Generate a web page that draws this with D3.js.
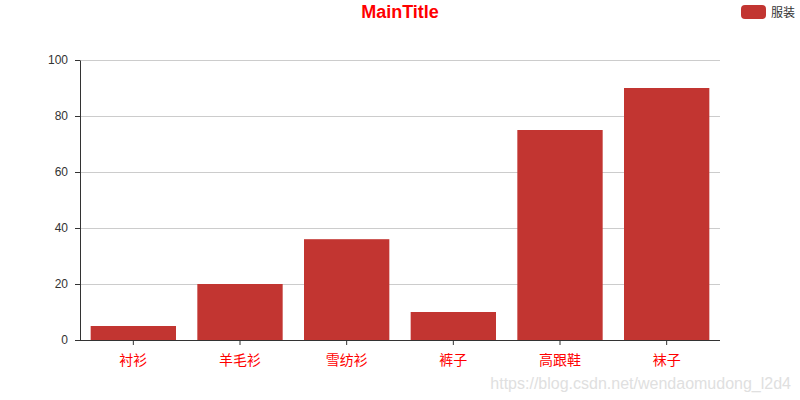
<!DOCTYPE html>
<html>
<head>
<meta charset="utf-8">
<script src="https://cdn.jsdelivr.net/npm/d3@7"></script>
<style>
    body { margin: 0; background: #fff; }
    text { font-family: "Noto Sans CJK SC", "Liberation Sans", sans-serif; }
</style>
</head>
<body>
<div id="chart"></div>
<script>
let categories = ['衬衫', '羊毛衫', '雪纺衫', '裤子', '高跟鞋', '袜子'];
let values = [5, 20, 36, 10, 75, 90];
let yTicks = [0, 20, 40, 60, 80, 100];
let seriesName = '服装';
let titleText = 'MainTitle';

let width = 800;
let height = 400;

let margin = {
    top: 60,
    right: 80,
    bottom: 60,
    left: 80
}

let svg = d3.select('#chart').append('svg')
    .attr('width', width)
    .attr('height', height);

let x = d3.scaleBand()
    .domain(categories)
    .range([margin.left, width - margin.right])
    .paddingInner(0.2)
    .paddingOuter(0.1);

let xAxisScale = d3.scaleBand()
    .domain(categories)
    .range([margin.left, width - margin.right]);

let y = d3.scaleLinear()
    .domain([0, 100])
    .range([height - margin.bottom, margin.top]);

// grid lines
svg.append('g')
    .selectAll('line')
    .data(yTicks.filter(d => d !== 0))
    .join('line')
        .attr('x1', margin.left)
        .attr('x2', width - margin.right)
        .attr('y1', d => y(d) + 0.5)
        .attr('y2', d => y(d) + 0.5)
        .attr('stroke', '#ccc');

// bars
svg.append('g')
    .selectAll('rect')
    .data(values)
    .join('rect')
        .attr('fill', '#c23531')
        .attr('x', (d, i) => x(categories[i]))
        .attr('y', d => y(d))
        .attr('width', x.bandwidth())
        .attr('height', d => y(0) - y(d));

// x axis
let xAxis = svg.append('g')
    .attr('transform', `translate(0,${y(0)})`)
    .call(d3.axisBottom(xAxisScale).tickSize(5).tickSizeOuter(0).tickPadding(10));
xAxis.select('.domain').attr('stroke', '#333').attr('d', `M${margin.left - 5},0.5H${width - margin.right}`);
xAxis.selectAll('.tick line').attr('stroke', '#333');
xAxis.selectAll('.tick text')
    .attr('fill', 'red')
    .attr('font-size', 14);

// y axis
let yAxis = svg.append('g')
    .attr('transform', `translate(${margin.left},0)`)
    .call(d3.axisLeft(y).tickValues(yTicks).tickSize(5).tickSizeOuter(0).tickPadding(7));
yAxis.select('.domain').attr('stroke', '#333');
yAxis.selectAll('.tick line').attr('stroke', '#333');
yAxis.selectAll('.tick text')
    .attr('fill', '#333')
    .attr('font-size', 12)
    .style('font-family', '"Liberation Sans", sans-serif');

// title
svg.append('text')
    .attr('x', width / 2)
    .attr('y', 18)
    .attr('text-anchor', 'middle')
    .attr('fill', 'red')
    .attr('font-size', 18)
    .attr('font-weight', 'bold')
    .style('font-family', '"Liberation Sans", sans-serif')
    .text(titleText);

// legend
let legend = svg.append('g').attr('transform', 'translate(741,5)');
legend.append('rect')
    .attr('width', 25)
    .attr('height', 14)
    .attr('rx', 4)
    .attr('fill', '#c23531');
legend.append('text')
    .attr('x', 30)
    .attr('y', 11.5)
    .attr('fill', '#333')
    .attr('font-size', 12)
    .text(seriesName);

// watermark
svg.append('text')
    .attr('x', 791)
    .attr('y', 389)
    .attr('text-anchor', 'end')
    .attr('fill', '#e0e0e0')
    .attr('font-size', 16)
    .style('font-family', '"Liberation Sans", sans-serif')
    .text('https://blog.csdn.net/wendaomudong_l2d4');
</script>
</body>
</html>
